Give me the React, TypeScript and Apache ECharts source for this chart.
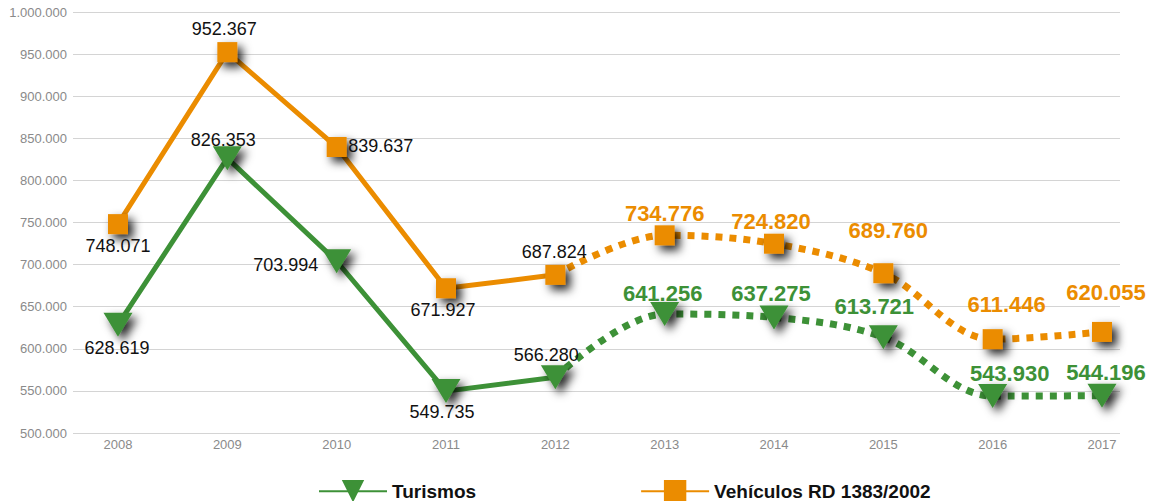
import React, { useEffect, useRef } from "react";
import * as echarts from "echarts";

const years = ["2008", "2009", "2010", "2011", "2012", "2013", "2014", "2015", "2016", "2017"];
const turismos = [628619, 826353, 703994, 549735, 566280, 641256, 637275, 613721, 543930, 544196];
const vehiculos = [748071, 952367, 839637, 671927, 687824, 734776, 724820, 689760, 611446, 620055];
const yTicks = { min: 500000, max: 1000000, step: 50000 };
const solidUntil = 4; // index of last year drawn with a solid line (2012)

// label offsets (label centre relative to point), styling only
const greenOffsets = [[-1, 23], [-4, -18], [-51, 4], [-4, 21], [-9, -22], [-2, -21], [-3, -24], [-9, -31], [17, -23], [4, -23]];
const orangeOffsets = [[0, 22], [-3, -23], [44, -1], [-3, 22], [-1, -23], [0, -22], [-3, -22], [5, -43], [14, -35], [4, -39]];

const GREEN = "#3D9137";
const ORANGE = "#EB8C00";
const FONT = "'Liberation Sans', Arial, Helvetica, sans-serif";
const TRI = "path://M0,0L30,0L15,25Z";

const fmt = (v: number) => String(Math.round(v)).replace(/\B(?=(\d{3})+(?!\d))/g, ".");

function labelFor(i: number, color: string, offsets: number[][]) {
  const bold = i > solidUntil;
  return {
    show: true,
    position: "inside",
    offset: offsets[i],
    color: bold ? color : "#111",
    fontSize: bold ? 22 : 18,
    fontWeight: bold ? "bold" : "normal",
    fontFamily: FONT,
    textBorderWidth: 0,
    textShadowBlur: 0,
    formatter: (p: any) => fmt(p.value),
  };
}

function buildSeries(name: string, values: number[], color: string, symbol: string, symbolSize: any, offsets: number[][]) {
  const shadow = {
    color,
    shadowColor: "rgba(0,0,0,0.85)",
    shadowBlur: 10,
    shadowOffsetX: 5,
    shadowOffsetY: 5,
  };
  const solidData = values.map((v, i) =>
    i <= solidUntil ? { value: v, label: labelFor(i, color, offsets) } : "-"
  );
  const dottedData = values.map((v, i) => {
    if (i < solidUntil) return "-";
    if (i === solidUntil) return { value: v, symbol: "none", label: { show: false } };
    return { value: v, label: labelFor(i, color, offsets) };
  });
  return [
    {
      name,
      type: "line",
      xAxisIndex: 1,
      yAxisIndex: 1,
      data: solidData,
      symbol,
      symbolSize,
      showAllSymbol: true,
      itemStyle: shadow,
      lineStyle: { color, width: 5, shadowBlur: 0 },
      z: 3,
    },
    {
      name,
      type: "line",
      xAxisIndex: 1,
      yAxisIndex: 1,
      data: dottedData,
      smooth: 0.35,
      symbol,
      symbolSize,
      showAllSymbol: true,
      itemStyle: shadow,
      lineStyle: { color, width: 7, type: [7, 7], cap: "butt", shadowBlur: 0 },
      z: 3,
    },
  ];
}

export default function App() {
  const ref = useRef<HTMLDivElement>(null);
  useEffect(() => {
    document.body.style.margin = "0";
    const chart = echarts.init(ref.current!, null, { renderer: "svg" });
    chart.setOption({
      animation: false,
      backgroundColor: "#fff",
      textStyle: { fontFamily: FONT },
      grid: [
        { left: 73, right: 33, top: 12, bottom: 68 },
        { left: 118, right: 51, top: 12, bottom: 68 },
      ],
      xAxis: [
        {
          type: "value",
          gridIndex: 0,
          min: 0,
          max: 1,
          axisLine: { show: false },
          axisTick: { show: false },
          axisLabel: { show: false },
          splitLine: { show: false },
        },
        {
          type: "category",
          gridIndex: 1,
          data: years,
          boundaryGap: false,
          axisLine: { show: false },
          axisTick: { show: false },
          splitLine: { show: false },
          axisLabel: { color: "#8a8a8a", fontSize: 13, margin: 5, fontFamily: FONT },
        },
      ],
      yAxis: [
        {
          type: "value",
          gridIndex: 0,
          min: yTicks.min,
          max: yTicks.max,
          interval: yTicks.step,
          axisLine: { show: false },
          axisTick: { show: false },
          splitLine: { lineStyle: { color: "#d4d4d4", width: 1 } },
          axisLabel: { color: "#8a8a8a", fontSize: 13, margin: 6, fontFamily: FONT, formatter: (v: number) => fmt(v) },
        },
        {
          type: "value",
          gridIndex: 1,
          min: yTicks.min,
          max: yTicks.max,
          interval: yTicks.step,
          show: false,
          splitLine: { show: false },
        },
      ],
      legend: {
        left: 313,
        top: 475,
        itemWidth: 68,
        itemHeight: 28,
        itemGap: 164,
        textStyle: { color: "#111", fontSize: 19, fontWeight: "bold", fontFamily: FONT },
        data: ["Turismos", "Vehículos RD 1383/2002"],
      },
      series: [
        ...buildSeries("Turismos", turismos, GREEN, TRI, [29, 24], greenOffsets),
        ...buildSeries("Vehículos RD 1383/2002", vehiculos, ORANGE, "rect", 20, orangeOffsets),
      ],
    });
    return () => chart.dispose();
  }, []);
  return <div ref={ref} style={{ width: 1153, height: 501 }} />;
}
